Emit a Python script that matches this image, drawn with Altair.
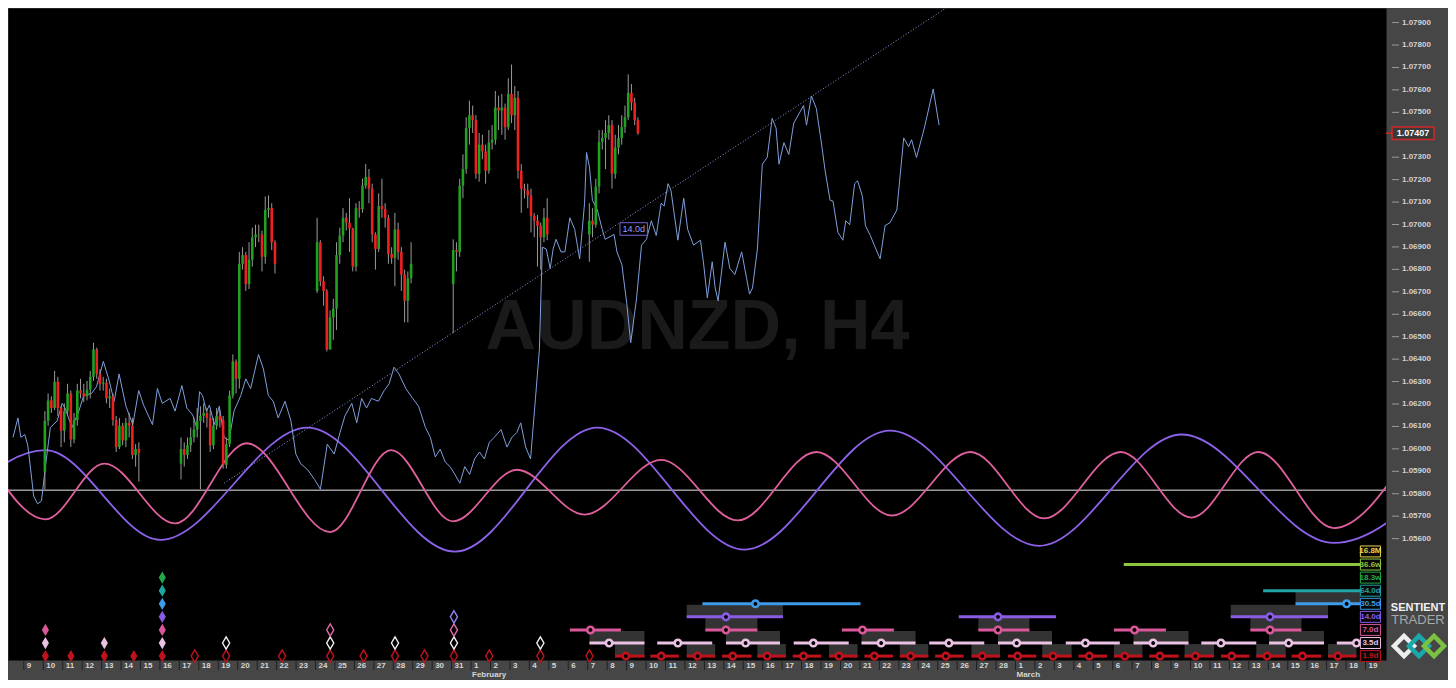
import datetime as dt
import altair as alt
import pandas as pd

W, H = 1378, 652

# ------------------------------------------------------------------
# DATA  (x values are days since 2022-01-09 00:00, prices in AUDNZD)
# ------------------------------------------------------------------
DAY0 = dt.date(2022, 1, 9)
X_DOMAIN = [-0.556, 69.798]
P_DOMAIN = [1.05059, 1.07965]
ROW_DOMAIN = [-0.2985, 49.55]

# date axis: one tick per calendar day, 9 Jan .. 19 Mar
tick_day = list(range(70))
tick_label = [str((DAY0 + dt.timedelta(days=d)).day) for d in tick_day]
month_day = [d for d in tick_day if (DAY0 + dt.timedelta(days=d)).day == 1]
month_label = [(DAY0 + dt.timedelta(days=d)).strftime("%B") for d in month_day]

# price axis labels (1.07400 is hidden behind the last-price tag)
price_ticks = [round(1.056 + 0.001 * i, 3) for i in range(24) if i != 18]

# H4 candles, one block per trading week (Mondays 10, 17, 24, 31 Jan, 7 Feb)
week_start_day = [1, 8, 15, 22, 29]
week_first_open = [1.05899, 1.05934, 1.06704, 1.06734, 1.06956]
week_close = [
    [1.06125, 1.06216, 1.06182, 1.06299, 1.06182, 1.06081, 1.06168, 1.06247, 1.06042, 1.06129,
     1.06260, 1.06247, 1.06234, 1.06264, 1.06321, 1.06443, 1.06334, 1.06290, 1.06295, 1.06225,
     1.06234, 1.06129, 1.06008, 1.06103, 1.06038, 1.06116, 1.06103, 1.05973, 1.05999, 1.05981],
    [1.05999, 1.05973, 1.06016, 1.06051, 1.06086, 1.06125, 1.06147, 1.06160, 1.06138, 1.06016,
     1.06103, 1.06147, 1.06129, 1.05929, 1.06021, 1.06238, 1.06390, 1.06312, 1.06825, 1.06864,
     1.06734, 1.06843, 1.06943, 1.06956, 1.06956, 1.06856, 1.07065, 1.07073, 1.06921, 1.06825],
    [1.06921, 1.06747, 1.06704, 1.06443, 1.06586, 1.06625, 1.06864, 1.06951, 1.07030, 1.07008,
     1.06982, 1.06812, 1.07073, 1.07069, 1.07173, 1.07212, 1.07160, 1.06956, 1.06891, 1.07082,
     1.07069, 1.07030, 1.06869, 1.06851, 1.06978, 1.06878, 1.06777, 1.06660, 1.06760, 1.06825],
    [1.06886, 1.06878, 1.07173, 1.07247, 1.07430, 1.07487, 1.07465, 1.07226, 1.07356, 1.07326,
     1.07239, 1.07365, 1.07378, 1.07521, 1.07508, 1.07521, 1.07434, 1.07582, 1.07487, 1.07565,
     1.07239, 1.07160, 1.07152, 1.07130, 1.07038, 1.07017, 1.06995, 1.06943, 1.07030, 1.06956],
    [1.07017, 1.06999, 1.07169, 1.07369, 1.07386, 1.07408, 1.07443, 1.07226, 1.07343, 1.07386,
     1.07434, 1.07478, 1.07587, 1.07543, 1.07465, 1.07407],
]
week_high = [
    [1.06168, 1.06247, 1.06234, 1.06347, 1.06321, 1.06190, 1.06203, 1.06290, 1.06260, 1.06160,
     1.06290, 1.06312, 1.06290, 1.06303, 1.06347, 1.06473, 1.06451, 1.06356, 1.06321, 1.06312,
     1.06269, 1.06247, 1.06147, 1.06138, 1.06116, 1.06138, 1.06160, 1.06138, 1.06021, 1.06029],
    [1.06051, 1.06029, 1.06051, 1.06095, 1.06138, 1.06182, 1.06190, 1.06203, 1.06182, 1.06173,
     1.06138, 1.06182, 1.06173, 1.06147, 1.06051, 1.06260, 1.06421, 1.06399, 1.06878, 1.06899,
     1.06878, 1.06921, 1.06986, 1.06999, 1.06999, 1.06973, 1.07125, 1.07130, 1.07095, 1.06930],
    [1.07030, 1.06930, 1.06769, 1.06712, 1.06617, 1.06669, 1.06921, 1.06986, 1.07073, 1.07052,
     1.07117, 1.06986, 1.07095, 1.07104, 1.07204, 1.07269, 1.07247, 1.07182, 1.06965, 1.07139,
     1.07204, 1.07095, 1.07043, 1.06899, 1.07052, 1.07008, 1.06899, 1.06799, 1.06791, 1.06921],
    [1.06934, 1.06921, 1.07204, 1.07313, 1.07478, 1.07552, 1.07530, 1.07487, 1.07408, 1.07400,
     1.07356, 1.07421, 1.07443, 1.07595, 1.07574, 1.07582, 1.07539, 1.07652, 1.07713, 1.07617,
     1.07595, 1.07269, 1.07182, 1.07182, 1.07160, 1.07052, 1.07043, 1.07008, 1.07073, 1.07117],
    [1.07095, 1.07073, 1.07204, 1.07421, 1.07421, 1.07465, 1.07487, 1.07465, 1.07400, 1.07443,
     1.07487, 1.07530, 1.07669, 1.07626, 1.07565, 1.07478],
]
week_low = [
    [1.05820, 1.06103, 1.06160, 1.06173, 1.06147, 1.06008, 1.06029, 1.06147, 1.06008, 1.06025,
     1.06103, 1.06225, 1.06208, 1.06216, 1.06225, 1.06303, 1.06312, 1.06260, 1.06260, 1.06203,
     1.06182, 1.06103, 1.05986, 1.05999, 1.06016, 1.06008, 1.06051, 1.05955, 1.05921, 1.05855],
    [1.05864, 1.05921, 1.05955, 1.05986, 1.06029, 1.06051, 1.05820, 1.06116, 1.06095, 1.05986,
     1.05999, 1.06086, 1.06095, 1.05912, 1.05912, 1.06008, 1.06225, 1.06247, 1.06269, 1.06799,
     1.06704, 1.06712, 1.06812, 1.06899, 1.06921, 1.06791, 1.06825, 1.07030, 1.06886, 1.06782],
    [1.06695, 1.06725, 1.06638, 1.06434, 1.06443, 1.06486, 1.06530, 1.06825, 1.06921, 1.06973,
     1.06878, 1.06791, 1.06791, 1.07030, 1.07052, 1.07160, 1.07095, 1.06921, 1.06799, 1.06878,
     1.07030, 1.06986, 1.06825, 1.06825, 1.06725, 1.06843, 1.06704, 1.06564, 1.06564, 1.06738],
    [1.06516, 1.06791, 1.06856, 1.07117, 1.07226, 1.07356, 1.07408, 1.07204, 1.07191, 1.07291,
     1.07182, 1.07226, 1.07334, 1.07356, 1.07421, 1.07400, 1.07378, 1.07421, 1.07452, 1.07421,
     1.07204, 1.07052, 1.07117, 1.07073, 1.06965, 1.06943, 1.06812, 1.06799, 1.06921, 1.06930],
    [1.06834, 1.06943, 1.06986, 1.07139, 1.07334, 1.07247, 1.07378, 1.07160, 1.07204, 1.07313,
     1.07356, 1.07408, 1.07465, 1.07508, 1.07443, 1.07400],
]

# composite projection line (light blue)
blue_day = [-0.556, -0.303, -0.152, 0.051, 0.202, 0.354, 0.505, 0.707, 0.909, 1.111, 1.364, 1.717,
            1.970, 2.121, 2.475, 2.828, 3.081, 3.485, 3.737, 4.091, 4.394, 4.646, 4.899, 5.253,
            5.606, 5.909, 6.162, 6.616, 6.869, 7.121, 7.525, 7.778, 8.131, 8.384, 8.687, 8.889,
            9.040, 9.192, 9.394, 9.545, 9.798, 10.051, 10.303, 10.556, 10.808, 11.162, 11.414,
            11.667, 12.071, 12.323, 12.576, 12.828, 13.081, 13.434, 13.737, 13.990, 14.242,
            14.596, 14.949, 15.253, 15.606, 15.960, 16.263, 16.515, 16.869, 17.121, 17.374,
            17.626, 17.879, 18.232, 18.535, 18.788, 19.040, 19.293, 19.646, 20.000, 20.303,
            20.657, 20.909, 21.162, 21.414, 21.667, 21.919, 22.172, 22.424, 22.677, 22.929,
            23.182, 23.434, 23.687, 23.939, 24.192, 24.545, 24.848, 25.101, 25.354, 25.556,
            25.808, 26.061, 26.313, 26.515, 26.667, 26.869, 27.071, 27.222, 27.374, 27.626,
            27.828, 28.081, 28.333, 28.586, 28.838, 28.939, 29.091, 29.242, 29.495, 29.747,
            29.899, 30.354, 30.505, 30.758, 31.010, 31.212, 31.515, 31.768, 32.020, 32.273,
            32.525, 32.778, 32.929, 33.131, 33.283, 33.636, 33.939, 34.141, 34.444, 34.798,
            34.949, 35.152, 35.404, 35.556, 35.707, 36.061, 36.313, 36.566, 36.919, 37.172,
            37.323, 37.475, 37.727, 37.980, 38.232, 38.485, 38.687, 38.838, 39.091, 39.343,
            39.596, 40.101, 40.253, 40.505, 40.758, 41.010, 41.212, 41.465, 41.616, 41.869,
            42.121, 42.273, 42.475, 42.727, 42.879, 43.131, 43.283, 43.535, 43.737, 44.040,
            44.293, 44.545, 44.899, 45.253, 45.505, 45.657, 45.909, 46.313, 46.768, 47.071]
blue_price = [1.06051, 1.06138, 1.06051, 1.06064, 1.06016, 1.05907, 1.05790, 1.05755, 1.05768,
              1.05921, 1.06095, 1.06125, 1.06203, 1.06182, 1.06095, 1.06168, 1.06238, 1.06247,
              1.06277, 1.06390, 1.06303, 1.06212, 1.06334, 1.06190, 1.06108, 1.06260, 1.06195,
              1.06108, 1.06269, 1.06203, 1.06225, 1.06168, 1.06282, 1.06182, 1.06151, 1.06095,
              1.06255, 1.06238, 1.06168, 1.06195, 1.06108, 1.06190, 1.06051, 1.06038, 1.06168,
              1.06238, 1.06312, 1.06269, 1.06421, 1.06356, 1.06238, 1.06212, 1.06138, 1.06212,
              1.06125, 1.05977, 1.05934, 1.05907, 1.05864, 1.05820, 1.06021, 1.05977, 1.06073,
              1.06147, 1.06203, 1.06116, 1.06225, 1.06182, 1.06225, 1.06212, 1.06260, 1.06290,
              1.06364, 1.06334, 1.06269, 1.06225, 1.06190, 1.06095, 1.06051, 1.05964, 1.05999,
              1.05942, 1.05921, 1.05886, 1.05847, 1.05921, 1.05886, 1.05955, 1.05986, 1.05955,
              1.06029, 1.06051, 1.06086, 1.06008, 1.06051, 1.06073, 1.06116, 1.06008, 1.05955,
              1.06225, 1.06443, 1.06899, 1.06891, 1.06804, 1.06891, 1.06934, 1.06878, 1.06878,
              1.07030, 1.06978, 1.06847, 1.07095, 1.07321, 1.07256, 1.07108, 1.07065, 1.06978,
              1.06934, 1.06956, 1.06878, 1.06821, 1.06647, 1.06473, 1.06673, 1.06908, 1.06934,
              1.07017, 1.06951, 1.07095, 1.07082, 1.07182, 1.07152, 1.06930, 1.07117, 1.06978,
              1.06908, 1.06930, 1.06834, 1.06673, 1.06834, 1.06717, 1.06660, 1.06921, 1.06804,
              1.06777, 1.06878, 1.06760, 1.06690, 1.06717, 1.06891, 1.07269, 1.07299, 1.07473,
              1.07430, 1.07269, 1.07365, 1.07312, 1.07452, 1.07530, 1.07443, 1.07573, 1.07517,
              1.07369, 1.07239, 1.07108, 1.07104, 1.06965, 1.06930, 1.07017, 1.06999, 1.07182,
              1.07195, 1.07125, 1.06995, 1.06951, 1.06908, 1.06847, 1.06995, 1.07008, 1.07065,
              1.07386, 1.07347, 1.07378, 1.07299, 1.07430, 1.07604, 1.07443]

# cycle overlays: turning points of the 14.0d (purple) and 7.0d (pink) waves
purple_day = [-5.101, 1.111, 7.020, 14.596, 22.172, 29.495, 37.071, 44.545, 52.222, 59.545, 67.374, 74.697]
purple_price = [1.05594, 1.05994, 1.05594, 1.06095, 1.05542, 1.06095, 1.05551, 1.06081, 1.05568,
                1.06064, 1.05581, 1.06073]
pink_day = [-1.818, 1.111, 4.141, 7.778, 11.465, 15.758, 18.889, 22.071, 25.354, 28.838, 32.778,
            36.717, 40.758, 44.646, 48.687, 52.475, 56.414, 60.051, 63.485, 67.374, 71.162]
pink_price = [1.05942, 1.05686, 1.05934, 1.05668, 1.06025, 1.05629, 1.05994, 1.05677, 1.05907,
              1.05707, 1.05951, 1.05681, 1.05986, 1.05703, 1.05986, 1.05690, 1.05986, 1.05694,
              1.05986, 1.05647, 1.05964]
mid_line_price = 1.05816

trend_day = [10.303, 47.424]
trend_price = [1.05847, 1.07965]

# cycle rows of the lower panel
row_labels = ["1.9d", "3.5d", "7.0d", "14.0d", "30.5d", "64.0d", "18.3w", "36.6w", "16.8M"]
row_colors = ["#c0121c", "#e9c2e4", "#d9579a", "#8a5ce6", "#3d9be9", "#1fa5a5", "#22a846",
              "#8dc63f", "#e8d44d"]

# projected troughs: band start, band end, expected trough (days)
band_start = {
    0: [30.404, 32.222, 34.091, 35.909, 37.727, 39.545, 41.414, 43.232, 45.051, 46.869, 48.737,
        50.606, 52.374, 54.242, 56.061, 57.879, 59.697, 61.566, 63.384, 65.202, 67.071],
    1: [29.091, 32.576, 36.111, 39.596, 43.081, 46.566, 50.101, 53.586, 57.071, 60.556, 64.040, 67.525],
    2: [28.081, 35.051, 42.071, 49.091, 56.061, 63.081],
    3: [34.091, 48.081, 62.071],
    4: [34.899, 65.404],
    5: [63.737],
    7: [56.566],
}
band_end = {
    0: [31.919, 33.687, 35.556, 37.424, 39.192, 41.010, 42.879, 44.697, 46.515, 48.333, 50.202,
        52.071, 53.889, 55.707, 57.525, 59.394, 61.212, 63.030, 64.899, 66.717, 68.535],
    1: [31.919, 35.404, 38.889, 42.424, 45.859, 49.394, 52.879, 56.364, 59.899, 63.384, 66.869, 68.737],
    2: [30.707, 37.727, 44.747, 51.717, 58.737, 65.707],
    3: [39.040, 53.081, 67.071],
    4: [43.030, 68.737],
    5: [68.737],
    7: [68.737],
}
band_trough = {
    0: [30.96, 32.78, 34.65, 36.46, 38.23, 40.10, 41.92, 43.74, 45.61, 47.42, 49.29, 51.11, 52.93,
        54.80, 56.62, 58.43, 60.25, 62.12, 63.94, 65.76, 67.58],
    1: [30.101, 33.636, 37.121, 40.606, 44.091, 47.576, 51.061, 54.596, 58.081, 61.566, 65.051, 68.535],
    2: [29.141, 36.111, 43.131, 50.101, 57.121, 64.091],
    3: [36.111, 50.101, 64.091],
    4: [37.626, 68.030],
}
# shaded timing boxes
box_start = {
    0: [30.404, 34.091, 37.727, 41.414, 45.051, 48.737, 52.374, 56.061, 59.697, 63.384, 67.071],
    1: [29.091, 36.111, 43.081, 50.101, 57.071, 64.040],
    2: [35.051, 49.091, 63.081],
    3: [34.091, 62.071],
    4: [65.404],
}
box_end = {
    0: [31.919, 35.556, 39.192, 42.879, 46.515, 50.202, 53.889, 57.525, 61.212, 64.899, 68.535],
    1: [31.919, 38.889, 45.859, 52.879, 59.899, 66.869],
    2: [37.727, 51.717, 65.707],
    3: [39.040, 67.071],
    4: [68.737],
}
# past troughs (diamonds)
dia_filled = {0: [1.111, 2.424, 4.141, 5.657, 7.121], 1: [1.111, 4.141, 7.121], 2: [1.111, 7.121],
              3: [7.121], 4: [7.121], 5: [7.121], 6: [7.121]}
dia_hollow = {0: [8.788, 10.404, 13.283, 15.758, 17.475, 19.091, 20.606, 22.121, 23.939, 26.566, 29.091],
              1: [10.404, 15.758, 19.091, 22.121, 26.566], 2: [15.758, 22.121], 3: [22.121]}
hollow_colors = {0: "#c0121c", 1: "#f2f2f2", 2: "#e06aa6", 3: "#8f86f0"}

legend_left, legend_right = 68.737, 69.77
label_14d = {"t": 30.66, "t2": 32.07, "p": 1.06980, "text": "14.0d"}
watermark = {"t": 34.65, "p": 1.06538, "text": "AUDNZD, H4"}

# ------------------------------------------------------------------
# TABLES
# ------------------------------------------------------------------
rows = []
for ws, o0, cs, hs, ls in zip(week_start_day, week_first_open, week_close, week_high, week_low):
    o = o0
    for k, (c, h, l) in enumerate(zip(cs, hs, ls)):
        rows.append({"t": ws + (k + 0.5) / 6, "open": o, "close": c, "high": h, "low": l,
                     "col": "#21a121" if c >= o else "#f02020"})
        o = c
candles = pd.DataFrame(rows)
last_price = week_close[-1][-1]

blue = pd.DataFrame({"t": blue_day, "p": blue_price})
purple = pd.DataFrame({"t": purple_day, "p": purple_price})
pink = pd.DataFrame({"t": pink_day, "p": pink_price})
trend = pd.DataFrame({"t": trend_day, "p": trend_price})
midline = pd.DataFrame({"p": [mid_line_price]})
xticks = pd.DataFrame({"t": tick_day, "lab": tick_label})
months = pd.DataFrame({"t": month_day, "lab": month_label})
yticks = pd.DataFrame({"p": price_ticks, "lab": [f"{v:.5f}" for v in price_ticks]})

segs, marks, boxes, dfill, dhol = [], [], [], [], []
for r in band_start:
    for s, e in zip(band_start[r], band_end[r]):
        segs.append({"r": r, "t": s, "t2": e, "col": row_colors[r]})
for r in band_trough:
    for m in band_trough[r]:
        marks.append({"r": r, "t": m, "col": row_colors[r]})
for r in box_start:
    for s, e in zip(box_start[r], box_end[r]):
        boxes.append({"r0": r - 0.06, "r1": r + 0.92, "t": s, "t2": e})
for r in dia_filled:
    for d in dia_filled[r]:
        dfill.append({"r": r, "t": d, "col": row_colors[r]})
for r in dia_hollow:
    for d in dia_hollow[r]:
        dhol.append({"r": r, "t": d, "col": hollow_colors[r]})
segs, marks, boxes = pd.DataFrame(segs), pd.DataFrame(marks), pd.DataFrame(boxes)
dfill, dhol = pd.DataFrame(dfill), pd.DataFrame(dhol)
legend = pd.DataFrame({"r": list(range(len(row_labels))), "label": row_labels, "col": row_colors})
legend["r0"] = legend["r"] - 0.42
legend["r1"] = legend["r"] + 0.42
legend["t"] = legend_left
legend["t2"] = legend_right
legend["tc"] = (legend_left + legend_right) / 2

# ------------------------------------------------------------------
# SCALES
# ------------------------------------------------------------------
FONT = "Liberation Sans"
XS = alt.Scale(domain=X_DOMAIN, nice=False, zero=False)
YS = alt.Scale(domain=P_DOMAIN, nice=False, zero=False)
RS = alt.Scale(domain=ROW_DOMAIN, nice=False, zero=False)


def X(field="t"):
    return alt.X(f"{field}:Q", scale=XS, axis=None)


def YP(field="p"):
    return alt.Y(f"{field}:Q", scale=YS, axis=None)


def YR(field="r"):
    return alt.Y(f"{field}:Q", scale=RS, axis=None)


# ------------------------------------------------------------------
# LAYERS
# ------------------------------------------------------------------
wm = alt.Chart(pd.DataFrame([watermark])).mark_text(
    font=FONT, fontSize=70, fontWeight="bold", color="#1a1a1a"
).encode(x=X("t"), y=YP("p"), text="text:N")

box_layer = alt.Chart(boxes).mark_rect(color="#333333").encode(
    x=X(), x2="t2:Q", y=YR("r0"), y2="r1:Q")

mid = alt.Chart(midline).mark_rule(color="#e8e8e8", strokeWidth=1).encode(y=YP())

purple_l = alt.Chart(purple).mark_line(color="#8d62ea", strokeWidth=1.8, interpolate="monotone",
                                       clip=True).encode(x=X(), y=YP())
pink_l = alt.Chart(pink).mark_line(color="#e0609e", strokeWidth=1.8, interpolate="monotone",
                                   clip=True).encode(x=X(), y=YP())
trend_l = alt.Chart(trend).mark_line(color="#9a9ae6", strokeWidth=1, strokeDash=[1, 2],
                                     clip=True).encode(x=X(), y=YP())
blue_l = alt.Chart(blue).mark_line(color="#7f9fdc", strokeWidth=1, clip=True).encode(x=X(), y=YP())

wicks = alt.Chart(candles).mark_rule(color="#9a9a9a", strokeWidth=1).encode(
    x=X(), y=YP("low"), y2="high:Q")
bodies = alt.Chart(candles).mark_bar(width=2.6).encode(
    x=X(), y=YP("open"), y2="close:Q", color=alt.Color("col:N", scale=None))

seg_layer = alt.Chart(segs).mark_rule(strokeWidth=3).encode(
    x=X(), x2="t2:Q", y=YR(), color=alt.Color("col:N", scale=None))
mark_layer = alt.Chart(marks).mark_point(shape="circle", filled=True, fill="#000000", size=42,
                                         strokeWidth=2.6, opacity=1).encode(
    x=X(), y=YR(), stroke=alt.Stroke("col:N", scale=None))
DIAMOND = "M0,-1L0.58,0L0,1L-0.58,0Z"
dfill_layer = alt.Chart(dfill).mark_point(shape=DIAMOND, filled=True, size=150, opacity=1).encode(
    x=X(), y=YR(), color=alt.Color("col:N", scale=None))
dhol_layer = alt.Chart(dhol).mark_point(shape=DIAMOND, filled=False, size=150, opacity=1,
                                        strokeWidth=1.4).encode(
    x=X(), y=YR(), color=alt.Color("col:N", scale=None))

leg_rect = alt.Chart(legend).mark_rect(fill="#080808", strokeWidth=1).encode(
    x=X(), x2="t2:Q", y=YR("r0"), y2="r1:Q", stroke=alt.Stroke("col:N", scale=None))
leg_text = alt.Chart(legend).mark_text(font=FONT, fontSize=8, fontWeight="bold").encode(
    x=X("tc"), y=YR(), text="label:N", color=alt.Color("col:N", scale=None))

# 14.0d tag on the main panel
tag_df = pd.DataFrame([{"t": label_14d["t"], "t2": label_14d["t2"],
                        "p0": label_14d["p"] - 0.00028, "p1": label_14d["p"] + 0.00028,
                        "tc": (label_14d["t"] + label_14d["t2"]) / 2, "p": label_14d["p"],
                        "text": label_14d["text"]}])
tag_rect = alt.Chart(tag_df).mark_rect(fill="#000000", stroke="#7a62d4", strokeWidth=1).encode(
    x=X(), x2="t2:Q", y=YP("p0"), y2="p1:Q")
tag_text = alt.Chart(tag_df).mark_text(font=FONT, fontSize=9, color="#a898f0").encode(
    x=X("tc"), y=YP(), text="text:N")

# date axis (drawn as marks in the bottom strip)
xtick_l = alt.Chart(xticks).mark_rule(color="#202020", strokeWidth=1).encode(
    x=X(), y=alt.value(H + 1), y2=alt.value(H + 10))
xlab_l = alt.Chart(xticks).mark_text(font=FONT, fontSize=8, fontWeight="bold", color="#d6d6d6",
                                     align="left", baseline="top", dx=3).encode(
    x=X(), y=alt.value(H + 2), text="lab:N")
month_l = alt.Chart(months).mark_text(font=FONT, fontSize=8, fontWeight="bold", color="#d6d6d6",
                                      align="left", baseline="top", dx=1).encode(
    x=X(), y=alt.value(H + 11), text="lab:N")

# price axis (drawn as marks in the right strip)
ytick_l = alt.Chart(yticks).mark_rule(color="#9a9a9a", strokeWidth=1).encode(
    x=alt.value(W + 6), x2=alt.value(W + 13), y=YP())
ylab_l = alt.Chart(yticks).mark_text(font=FONT, fontSize=8, fontWeight="bold", color="#d2d2d2",
                                     align="left", baseline="middle").encode(
    x=alt.value(W + 16), y=YP(), text="lab:N")

# last price marker on the price axis
lp = pd.DataFrame([{"p": last_price, "p0": last_price - 0.00028, "p1": last_price + 0.00028,
                    "text": f"{last_price:.5f}"}])
lp_line = alt.Chart(lp).mark_rule(color="#d42828", strokeWidth=1.5).encode(
    x=alt.value(W), x2=alt.value(W + 6), y=YP())
lp_rect = alt.Chart(lp).mark_rect(fill="#3a3a3a", stroke="#d42828", strokeWidth=1.5).encode(
    x=alt.value(W + 6), x2=alt.value(W + 48), y=YP("p0"), y2="p1:Q")
lp_text = alt.Chart(lp).mark_text(font=FONT, fontSize=9, fontWeight="bold", color="#ffffff").encode(
    x=alt.value(W + 27), y=YP(), text="text:N")

# Sentient Trader logo
logo_a = alt.Chart(pd.DataFrame({"s": ["SENTIENT"]})).mark_text(
    font=FONT, fontSize=11, fontWeight="bold", color="#f2f2f2").encode(
    x=alt.value(W + 32), y=alt.value(600), text="s:N")
logo_b = alt.Chart(pd.DataFrame({"s": ["TRADER"]})).mark_text(
    font=FONT, fontSize=13, color="#a8a8a8").encode(
    x=alt.value(W + 32), y=alt.value(612), text="s:N")
logo_marks = []
for dx, c in [(18, "#eeeeee"), (33, "#1aa8ac"), (48, "#7cc242")]:
    logo_marks.append(alt.Chart(pd.DataFrame({"k": [0]})).mark_point(
        shape="diamond", filled=False, size=400, strokeWidth=4.5, opacity=1, color=c).encode(
        x=alt.value(W + dx), y=alt.value(638)))

chart = alt.layer(
    wm, box_layer, mid, purple_l, pink_l, trend_l, blue_l, wicks, bodies,
    tag_rect, tag_text, seg_layer, mark_layer, dfill_layer, dhol_layer, leg_rect, leg_text,
    xtick_l, xlab_l, month_l, ytick_l, ylab_l,
    lp_line, lp_rect, lp_text, logo_a, logo_b, *logo_marks
).resolve_scale(y="independent").properties(
    width=W, height=H,
    autosize=alt.AutoSizeParams(type="none"),
    padding={"left": 0, "top": 0, "right": 62, "bottom": 20},
).configure(background="#464646").configure_view(fill="#000000", strokeOpacity=0)

chart.save("out.html", embed_options={"renderer": "svg", "actions": False})
